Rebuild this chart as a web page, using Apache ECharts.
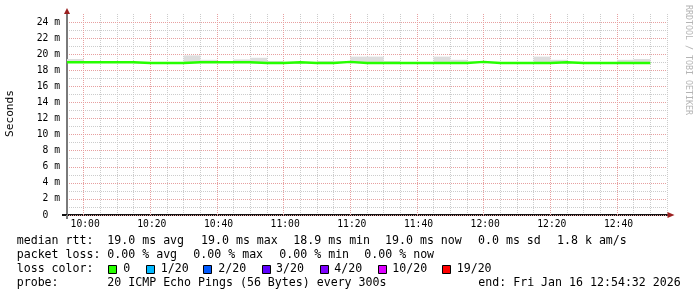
<!DOCTYPE html>
<html><head><meta charset="utf-8">
<script src="https://cdn.jsdelivr.net/npm/echarts@6/dist/echarts.min.js"></script>
<style>html,body{margin:0;padding:0;background:#fff}#c{width:697px;height:297px}</style>
</head><body><div id="c"></div>
<script>
// ---- data ----
const stepStarts = ['09:55','10:00','10:05','10:10','10:15','10:20','10:25','10:30','10:35','10:40',
  '10:45','10:50','10:55','11:00','11:05','11:10','11:15','11:20','11:25','11:30',
  '11:35','11:40','11:45','11:50','11:55','12:00','12:05','12:10','12:15','12:20',
  '12:25','12:30','12:35','12:40','12:45'];
const stepMinutes = 5;
const medianMs = [19.0,19.0,19.0,19.0,18.9,18.9,18.9,19.0,19.0,19.0,
  19.0,18.9,18.9,19.0,18.9,18.9,19.05,18.9,18.9,18.9,
  18.9,18.9,18.9,18.9,19.05,18.9,18.9,18.9,18.9,19.0,
  18.9,18.9,18.9,18.9,18.9];
const smokeLowMs = [18.95,18.95,18.95,18.95,18.85,18.85,18.85,18.95,18.95,18.95,
  18.95,18.85,18.85,18.8,18.85,18.85,19.0,18.85,18.85,18.85,
  18.85,18.85,18.85,18.85,19.0,18.85,18.85,18.85,18.85,18.95,
  18.85,18.85,18.85,18.85,18.85];
const smokeHighMs = [19.4,19.15,19.0,19.0,18.95,18.95,18.95,19.85,19.3,19.05,
  19.35,19.55,19.15,19.05,18.95,19.15,19.1,19.7,19.7,19.15,
  18.95,18.95,19.7,19.3,19.1,18.95,18.95,19.0,19.7,19.3,
  18.95,18.95,18.95,19.3,19.4];
const axisStart = '09:55';
const axisEnd = '12:55';
const majorStart = '09:40';   // multiple of 20 min, for the labelled major grid
const majorEnd = '13:00';
const yMaxMs = 25;
const lossLabels = ['0','1/20','2/20','3/20','4/20','10/20','19/20'];
const lossColors = ['#26ff00','#00b8ff','#0059ff','#5e00ff','#7e00ff','#dd00ff','#ff0000'];
const statLine1 = ['median rtt:','19.0 ms avg','19.0 ms max','18.9 ms min','19.0 ms now','0.0 ms sd','1.8 k am/s'];
const statLine2 = ['packet loss:','0.00 % avg','0.00 % max','0.00 % min','0.00 % now'];
const probeText = ['probe:','20 ICMP Echo Pings (56 Bytes) every 300s','end: Fri Jan 16 12:54:32 2026'];

// ---- layout ----
const PLOT_L = 67, PLOT_T = 14, PLOT_W = 600, PLOT_H = 201;
const line1X = [16.7,107.3,201,293.3,385,478,557];
const line2X = [16.7,107.3,193.3,279.3,364.3];
const line4X = [16.7,107.3,478.3];
const lossSquareX = [108.5,146.5,203.5,262.5,320.5,378.5,442.5];
const lossLabelX = [123.3,160.7,218.3,276,334.3,392.3,456.7];
const FONT = '11.6px "DejaVu Sans Mono"';

const toMin = s => { const [h,m] = s.split(':').map(Number); return h*60+m; };
const fmt = v => { const h = Math.floor(v/60), m = v%60; return String(h).padStart(2,'0')+':'+String(m).padStart(2,'0'); };

const smokeData = stepStarts.map((t,i)=>[toMin(t), smokeLowMs[i], smokeHighMs[i]]);
const medianData = stepStarts.map((t,i)=>[toMin(t), medianMs[i]]);
medianData.push([toMin(stepStarts[stepStarts.length-1])+stepMinutes, medianMs[medianMs.length-1]]);

// second grid spanning the wider major range, scaled identically
const x0 = toMin(axisStart), x1 = toMin(axisEnd), m0 = toMin(majorStart), m1 = toMin(majorEnd);
const pxPerMin = PLOT_W/(x1-x0);
const grid2Left = PLOT_L - (x0-m0)*pxPerMin;
const grid2Width = (m1-m0)*pxPerMin;

const MAJ = '#e7a0a0', MIN = '#cccccc', ARROW = '#9b2020';

const graphic = [];
function txt(text, x, y) {
  graphic.push({type:'text', x:x, y:y, style:{text:text, font:FONT, fill:'#000', verticalAlign:'middle', align:'left'}});
}
statLine1.forEach((s,i)=>txt(s, line1X[i], 241));
statLine2.forEach((s,i)=>txt(s, line2X[i], 255));
txt('loss color:', 16.7, 269);
lossLabels.forEach((s,i)=>{
  graphic.push({type:'rect', shape:{x:lossSquareX[i], y:265.5, width:8, height:8}, style:{fill:lossColors[i], stroke:'#000', lineWidth:1}});
  txt(s, lossLabelX[i], 269);
});
probeText.forEach((s,i)=>txt(s, line4X[i], 283));
graphic.push({type:'text', x:10.5, y:113.5, rotation:Math.PI/2, style:{text:'Seconds', font:'11.2px "DejaVu Sans Mono"', fill:'#000', align:'center', verticalAlign:'middle'}});
graphic.push({type:'text', x:688, y:60, rotation:-Math.PI/2, style:{text:'RRDTOOL / TOBI OETIKER', font:'8.3px "DejaVu Sans Mono"', fill:'#b4b4b4', align:'center', verticalAlign:'middle'}});
// axis stubs and arrows (RRDtool style decoration)
graphic.push({type:'line', z:10, shape:{x1:62, y1:215, x2:67, y2:215}, style:{stroke:'#111', lineWidth:2}});
graphic.push({type:'line', z:10, shape:{x1:67, y1:215, x2:67, y2:219}, style:{stroke:'#7a7a7a', lineWidth:2}});
graphic.push({type:'polygon', z:10, shape:{points:[[667.5,212],[674.5,215],[667.5,218]]}, style:{fill:ARROW}});
graphic.push({type:'polygon', z:10, shape:{points:[[64,14],[67,8],[70,14]]}, style:{fill:ARROW}});

const chart = echarts.init(document.getElementById('c'), null, {renderer:'canvas'});
chart.setOption({
  animation:false,
  backgroundColor:'#fff',
  grid:[
    {left:PLOT_L, top:PLOT_T, width:PLOT_W, height:PLOT_H, containLabel:false},
    {left:grid2Left, top:PLOT_T, width:grid2Width, height:PLOT_H, containLabel:false}
  ],
  xAxis:[
    { // minor grid + axis line
      gridIndex:0, type:'value', min:x0, max:x1, interval:5, z:1,
      axisLine:{show:true, onZero:false, lineStyle:{color:'#111', width:2}},
      axisTick:{show:false}, axisLabel:{show:false},
      splitLine:{show:true, showMinLine:false, showMaxLine:true, lineStyle:{color:MIN, type:[1,1], width:1}}
    },
    { // major grid + labels
      gridIndex:1, type:'value', min:m0, max:m1, interval:20, z:2,
      axisLine:{show:false}, axisTick:{show:false},
      axisLabel:{margin:4, padding:[0,0,0,3], color:'#000', fontFamily:'DejaVu Sans Mono', fontSize:9.7,
        formatter:v=> (v>x0 && v<x1 ? fmt(v) : '')},
      splitLine:{show:true, showMinLine:false, showMaxLine:false, lineStyle:{color:MAJ, type:[1,1], width:1}}
    }
  ],
  yAxis:[
    { // major grid + labels
      gridIndex:0, type:'value', min:0, max:yMaxMs, interval:2, z:2,
      axisLine:{show:true, lineStyle:{color:'#7a7a7a', width:2}},
      axisTick:{show:false},
      axisLabel:{margin:7, color:'#000', fontFamily:'DejaVu Sans Mono', fontSize:9.7,
        formatter:v=> (v===0 ? '0  ' : (v%2===0 ? v+' m' : ''))},
      splitLine:{show:true, showMaxLine:false, lineStyle:{color:MAJ, type:[1,1], width:1}}
    },
    { // minor grid
      gridIndex:0, type:'value', min:0, max:yMaxMs, interval:1, z:1, position:'left',
      axisLine:{show:false}, axisTick:{show:false}, axisLabel:{show:false},
      splitLine:{show:true, showMaxLine:false, lineStyle:{color:MIN, type:[1,1], width:1}}
    },
    { gridIndex:1, type:'value', min:0, max:yMaxMs, show:false, splitLine:{show:false} }
  ],
  series:[
    {type:'custom', xAxisIndex:0, yAxisIndex:0, data:smokeData, z:3,
      renderItem:(params, api)=>{
        const t=api.value(0), lo=api.value(1), hi=api.value(2);
        const p0=api.coord([t,hi]), p1=api.coord([t+stepMinutes,lo]);
        return {type:'rect', shape:{x:p0[0], y:p0[1], width:p1[0]-p0[0], height:p1[1]-p0[1]}, style:{fill:'#dddddd'}};
      }},
    {type:'line', xAxisIndex:0, yAxisIndex:0, data:medianData, step:'end', symbol:'none', z:4,
      lineStyle:{color:'#26ff00', width:2.4}}
  ],
  graphic:graphic
});
</script></body></html>
